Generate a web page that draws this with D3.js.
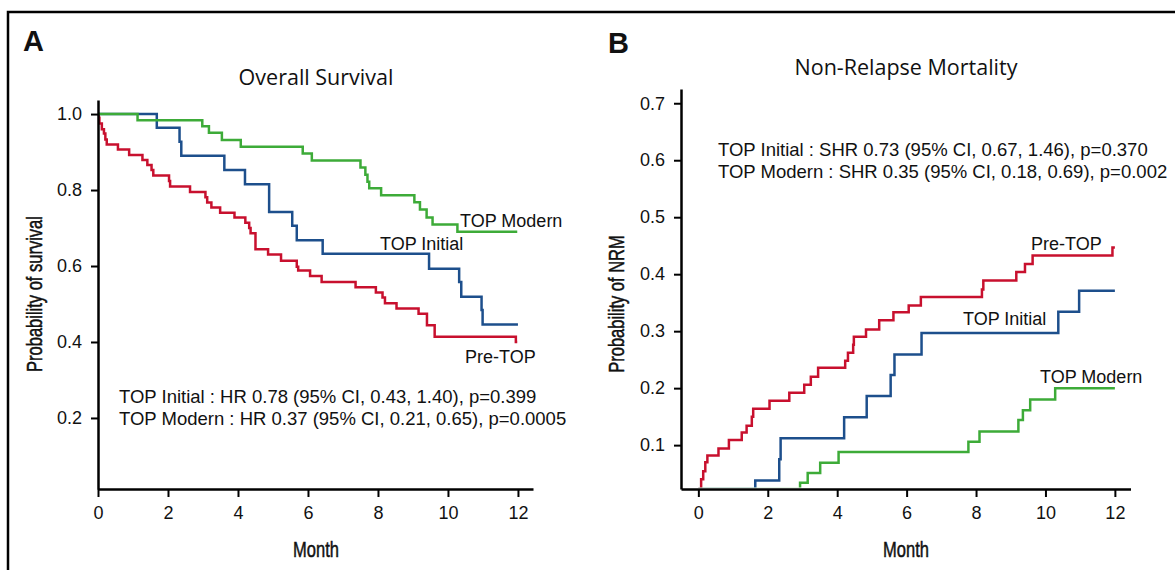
<!DOCTYPE html>
<html>
<meta charset="UTF-8">
<head>
    <script src="https://d3js.org/d3.v7.min.js"></script>
    <style>
        body { margin: 0; background: white; }
        svg text { font-family: "Liberation Sans", Arial, sans-serif; fill: #111; }
        svg .title { font-family: "Open Sans", "Liberation Sans", sans-serif; }
        svg .cond { stroke: #111; stroke-width: 0.5px; }
    </style>
</head>
<body></body>
<script>
    // ---- data ----
    let monthTicks = [0, 2, 4, 6, 8, 10, 12];
    let osTicks = [0.2, 0.4, 0.6, 0.8, 1.0];
    let nrmTicks = [0.1, 0.2, 0.3, 0.4, 0.5, 0.6, 0.7];

    // overall survival, [month, probability]
    let osPreTop = [[0,1],[0.02,0.99],[0.04,0.975],[0.11,0.96],[0.17,0.949],[0.21,0.933],[0.25,0.92],
        [0.57,0.907],[0.89,0.892],[1.27,0.879],[1.41,0.866],[1.53,0.853],[1.58,0.838],[2.03,0.824],
        [2.06,0.809],[2.63,0.795],[3.07,0.781],[3.12,0.767],[3.24,0.754],[3.49,0.74],[3.9,0.728],
        [4.21,0.714],[4.32,0.7],[4.36,0.686],[4.5,0.644],[4.86,0.63],[5.23,0.614],[5.68,0.598],
        [5.72,0.588],[6.06,0.574],[6.39,0.558],[7.36,0.544],[7.94,0.53],[8.13,0.517],[8.2,0.502],
        [8.53,0.488],[9.16,0.474],[9.4,0.444],[9.62,0.414],[11.94,0.4],[11.98,0.4]];
    let osInitial = [[0,1],[1.68,0.964],[2.33,0.927],[2.38,0.89],[3.61,0.853],[4.2,0.815],[4.89,0.742],
        [5.55,0.706],[5.68,0.668],[6.42,0.632],[9.46,0.593],[10.32,0.558],[10.38,0.519],[10.96,0.484],
        [10.99,0.446],[12,0.446]];
    let osModern = [[0,1],[1.13,0.984],[2.98,0.968],[3.17,0.951],[3.54,0.932],[4.08,0.914],[5.85,0.896],
        [6.11,0.878],[7.5,0.859],[7.64,0.84],[7.7,0.822],[7.75,0.805],[8.09,0.786],[9.04,0.768],
        [9.2,0.749],[9.39,0.728],[9.56,0.709],[10.27,0.69],[11.98,0.69]];

    // non-relapse mortality, [month, cumulative incidence]
    let nrmPreTop = [[0,0],[0.08,0.04],[0.14,0.054],[0.2,0.07],[0.26,0.082],[0.58,0.094],[0.88,0.109],
        [1.25,0.122],[1.39,0.134],[1.54,0.15],[1.58,0.164],[2.05,0.178],[2.62,0.192],[3.05,0.206],
        [3.24,0.22],[3.45,0.236],[4.23,0.248],[4.31,0.262],[4.46,0.276],[4.48,0.29],[4.83,0.303],
        [5.21,0.319],[5.62,0.333],[6.06,0.345],[6.41,0.36],[8.17,0.373],[8.21,0.389],[9.16,0.404],
        [9.41,0.418],[9.63,0.433],[11.93,0.447],[12,0.447]];
    let nrmInitial = [[0,0],[1.64,0.038],[2.33,0.075],[2.37,0.112],[4.2,0.149],[4.85,0.186],[5.54,0.223],
        [5.65,0.259],[6.43,0.297],[10.37,0.334],[10.97,0.371],[12,0.371]];
    let nrmModern = [[0,0],[2.93,0.034],[3.15,0.051],[3.51,0.069],[4.04,0.088],[7.78,0.106],[8.1,0.124],
        [9.22,0.144],[9.35,0.161],[9.56,0.18],[10.28,0.2],[12,0.2]];

    let red = "#c8102e", blue = "#1d4f8c", green = "#3dab38";

    let svg = d3.select("body").append("svg")
        .attr("width", 1175)
        .attr("height", 570);

    // outer frame (left and top edges only are visible)
    svg.append("path")
        .attr("d", "M8,572V12H1180")
        .attr("fill", "none")
        .attr("stroke", "black")
        .attr("stroke-width", 2.5);

    function drawPanel(p){
        let g = svg.append("g");
        let x = d3.scaleLinear().domain(p.xDomain).range(p.xRange);
        let y = d3.scaleLinear().domain(p.yDomain).range(p.yRange).clamp(true);

        g.append("clipPath").attr("id", p.id)
            .append("rect")
            .attr("x", p.xRange[0]).attr("y", p.yRange[1])
            .attr("width", p.xRange[1] - p.xRange[0])
            .attr("height", p.yRange[0] - p.yRange[1] - 1.5);

        let line = d3.line()
            .x(d => x(d[0]))
            .y(d => y(d[1]))
            .curve(d3.curveStepAfter);

        for (let s of p.series){
            g.append("path")
                .datum(s.data)
                .attr("clip-path", `url(#${p.id})`)
                .attr("fill", "none")
                .attr("stroke", s.color)
                .attr("stroke-width", 2.5)
                .attr("d", line);
            g.append("text")
                .attr("x", s.lx).attr("y", s.ly)
                .attr("font-size", "18px")
                .text(s.name);
        }

        let xAxis = g.append("g")
            .attr("transform", `translate(0,${p.yRange[0]})`)
            .call(d3.axisBottom(x).tickValues(monthTicks).tickSize(8).tickSizeOuter(0).tickPadding(9));
        let yAxis = g.append("g")
            .attr("transform", `translate(${p.xRange[0]},0)`)
            .call(d3.axisLeft(y).tickValues(p.yTicks).tickFormat(d3.format(".1f"))
                .tickSize(7).tickSizeOuter(0).tickPadding(9));
        for (let ax of [xAxis, yAxis]){
            ax.select(".domain").attr("stroke", "black").attr("stroke-width", 2.5);
            ax.selectAll(".tick line").attr("stroke", "black").attr("stroke-width", 2);
            ax.selectAll(".tick text")
                .attr("font-family", null)
                .attr("font-size", "18px")
                .attr("fill", "#111");
        }

        // panel letter
        g.append("text")
            .attr("x", p.letterX).attr("y", p.letterY)
            .attr("font-size", "29px")
            .attr("font-weight", "bold")
            .text(p.letter);

        // title
        g.append("text")
            .attr("class", "title")
            .attr("x", p.titleX).attr("y", p.titleY)
            .attr("text-anchor", "middle")
            .attr("font-size", "21.5px")
            .text(p.title);

        // axis labels, squeezed to look like the condensed face of the original
        g.append("text")
            .attr("class", "cond")
            .attr("transform", `translate(${p.titleX},557) scale(0.75,1)`)
            .attr("text-anchor", "middle")
            .attr("font-size", "22px")
            .text("Month");
        g.append("text")
            .attr("class", "cond")
            .attr("transform", `translate(${p.ylabX},${p.ylabY}) rotate(-90) scale(0.75,1)`)
            .attr("text-anchor", "middle")
            .attr("font-size", "22px")
            .text(p.ylab);

        // hazard ratio notes
        p.notes.forEach((t, i) => {
            g.append("text")
                .attr("x", p.noteX).attr("y", p.noteY + i * 21.5)
                .attr("font-size", "18.5px")
                .text(t);
        });
    }

    drawPanel({
        id: "clipA",
        letter: "A", letterX: 23, letterY: 51,
        title: "Overall Survival", titleX: 316, titleY: 85,
        ylab: "Probability of survival", ylabX: 42, ylabY: 294,
        xDomain: [0, 12.43], xRange: [98, 533],
        yDomain: [0.013, 1.037], yRange: [489, 100],
        yTicks: osTicks,
        series: [
            {name: "Pre-TOP", data: osPreTop, color: red, lx: 465, ly: 363},
            {name: "TOP Initial", data: osInitial, color: blue, lx: 380, ly: 250},
            {name: "TOP Modern", data: osModern, color: green, lx: 460, ly: 227}
        ],
        noteX: 119, noteY: 403,
        notes: ["TOP Initial : HR 0.78 (95% CI, 0.43, 1.40), p=0.399",
                "TOP Modern : HR 0.37 (95% CI, 0.21, 0.65), p=0.0005"]
    });

    drawPanel({
        id: "clipB",
        letter: "B", letterX: 608, letterY: 53,
        title: "Non-Relapse Mortality", titleX: 906, titleY: 75,
        ylab: "Probability of NRM", ylabX: 624, ylabY: 304,
        xDomain: [-0.5, 12.45], xRange: [681, 1130.5],
        yDomain: [0.023, 0.725], yRange: [489, 89],
        yTicks: nrmTicks,
        series: [
            {name: "Pre-TOP", data: nrmPreTop, color: red, lx: 1031, ly: 250},
            {name: "TOP Initial", data: nrmInitial, color: blue, lx: 963, ly: 325},
            {name: "TOP Modern", data: nrmModern, color: green, lx: 1040, ly: 383}
        ],
        noteX: 718, noteY: 156,
        notes: ["TOP Initial : SHR 0.73 (95% CI, 0.67, 1.46), p=0.370",
                "TOP Modern : SHR 0.35 (95% CI, 0.18, 0.69), p=0.002"]
    });
</script>
</html>
